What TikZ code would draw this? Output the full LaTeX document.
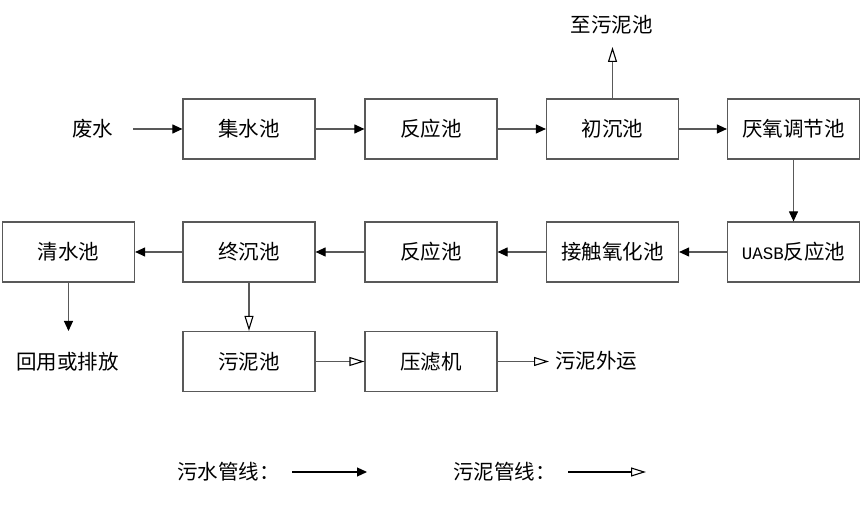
\documentclass[tikz,border=0pt]{standalone}
\usepackage{fontspec}
\setmainfont{Noto Sans CJK SC}
\newfontfamily\latinmono{Liberation Mono}
\usetikzlibrary{arrows.meta}
\begin{document}
\begin{tikzpicture}[x=1pt,y=-1pt,
  txt/.style={inner sep=0pt, font=\fontsize{20.5}{20.5}\selectfont},
  box/.style={txt, draw=black!65, line width=1.2pt, minimum width=132pt, minimum height=60pt},
  water/.style={draw=black!65, line width=1.1pt, -{Triangle[length=10pt,width=9pt,color=black]}},
  sludge/.style={draw=black!65, line width=1.1pt, -{Triangle[length=15pt,width=9pt,color=black,fill=white]}}]
\useasboundingbox (0,0) rectangle (863,521);
% row 1
\node[box] (jishui) at (249,129) {集水池};
\node[box] (fanying1) at (431,129) {反应池};
\node[box] (chuchen) at (612.5,129) {初沉池};
\node[box] (yanyang) at (793.5,129) {厌氧调节池};
% row 2
\node[box] (qingshui) at (68.5,252) {清水池};
\node[box] (zhongchen) at (249,252) {终沉池};
\node[box] (fanying2) at (431,252) {反应池};
\node[box] (jiechu) at (612.5,252) {接触氧化池};
\node[box] (uasb) at (793.5,252) {\latinmono\fontsize{17.5}{17.5}\selectfont UASB\fontspec{Noto Sans CJK SC}\fontsize{20.5}{20.5}\selectfont 反应池};
% row 3
\node[box] (wuni) at (249,361.5) {污泥池};
\node[box] (yalv) at (431,361.5) {压滤机};
% labels
\node[txt] (feishui) at (92.5,129) {废水};
\node[txt] (zhiwuni) at (611.7,25) {至污泥池};
\node[txt] (huiyong) at (67.5,362) {回用或排放};
\node[txt,anchor=west] (waiyun) at (555,361) {污泥外运};
\coordinate (feishuiE) at (133,129);
\coordinate (zhiwuniS) at (612.5,47);
\coordinate (huiyongN) at (68.5,331);
\coordinate (waiyunW) at (549,361.5);
% flow
\draw[water] (feishuiE) -- (jishui);
\draw[water] (jishui) -- (fanying1);
\draw[water] (fanying1) -- (chuchen);
\draw[water] (chuchen) -- (yanyang);
\draw[water] (yanyang) -- (uasb);
\draw[water] (uasb) -- (jiechu);
\draw[water] (jiechu) -- (fanying2);
\draw[water] (fanying2) -- (zhongchen);
\draw[water] (zhongchen) -- (qingshui);
\draw[water] (qingshui) -- (huiyongN);
\draw[sludge] (chuchen) -- (zhiwuniS);
\draw[sludge] (zhongchen) -- (wuni);
\draw[sludge] (wuni) -- (yalv);
\draw[sludge] (yalv) -- (waiyunW);
% legend
\node[txt,anchor=west] (leg1) at (177,472) {污水管线：};
\node[txt,anchor=west] (leg2) at (453,472) {污泥管线：};
\coordinate (l1a) at (292,472);
\coordinate (l1b) at (367,472);
\coordinate (l2a) at (568,472);
\coordinate (l2b) at (646,472);
\draw[water,draw=black] (l1a) -- (l1b);
\draw[sludge,draw=black] (l2a) -- (l2b);
\end{tikzpicture}
\end{document}
